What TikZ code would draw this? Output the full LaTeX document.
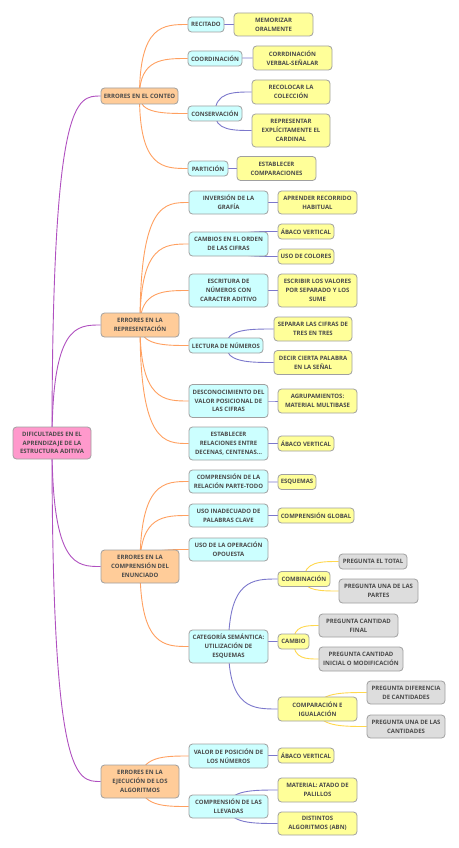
\documentclass[tikz,border=0pt]{standalone}
\usepackage{fontspec}
\setmainfont{Open Sans}
\usetikzlibrary{calc,backgrounds}
\definecolor{txt}{HTML}{4A4A4A}
\definecolor{bord}{HTML}{A0A0A0}
\definecolor{pinkf}{HTML}{FF99CC}
\definecolor{orangef}{HTML}{FFCC99}
\definecolor{cyanf}{HTML}{CCFFFF}
\definecolor{yellowf}{HTML}{FFFF99}
\definecolor{grayf}{HTML}{DDDDDD}
\definecolor{epurple}{HTML}{B050C0}
\definecolor{eorange}{HTML}{FFA060}
\definecolor{eblue}{HTML}{7C78CC}
\definecolor{eyellow}{HTML}{FFD84D}
\tikzset{
  box/.style={draw=bord, line width=0.8pt, rounded corners=3.5pt, inner sep=0pt,
    align=center, text=txt, font=\fontsize{6}{8.8}\selectfont\bfseries},
  rootbox/.style={box, fill=pinkf},
  lone/.style={box, fill=orangef},
  ltwo/.style={box, fill=cyanf},
  lthree/.style={box, fill=yellowf},
  lfour/.style={box, fill=grayf},
  sz/.style 2 args={minimum width=#1pt, minimum height=#2pt},
  epu/.style={draw=epurple, line width=0.9pt},
  eor/.style={draw=eorange, line width=0.9pt},
  ebl/.style={draw=eblue, line width=0.9pt},
  eye/.style={draw=eyellow, line width=0.9pt},
}
\newcommand\edg[3]{\draw[#1] (#2.center) .. controls (#2.center |- #3.west) and ($(#2.center |- #3.west)!0.5!(#3.west)$) .. (#3.west);}
\begin{document}
\begin{tikzpicture}[x=1pt,y=-1pt]
\useasboundingbox (0,0) rectangle (458,848);
% root
\node[rootbox, sz={78}{32}] (r) at (52,443) {DIFICULTADES EN EL\\APRENDIZAJE DE LA\\ESTRUCTURA ADITIVA};
% level 1
\node[lone, sz={77}{16}] (a) at (139.5,96) {ERRORES EN EL CONTEO};
\node[lone, sz={78}{24}] (b) at (140,325) {ERRORES EN LA\\REPRESENTACIÓN};
\node[lone, sz={78}{33}] (c) at (140,566.5) {ERRORES EN LA\\COMPRENSIÓN DEL\\ENUNCIADO};
\node[lone, sz={78}{33}] (d) at (140,781.5) {ERRORES EN LA\\EJECUCIÓN DE LOS\\ALGORITMOS};
% conteo
\node[ltwo, sz={36}{15}] (a1) at (206,24.5) {RECITADO};
\node[ltwo, sz={54}{15}] (a2) at (215,58.5) {COORDINACIÓN};
\node[ltwo, sz={54}{15}] (a3) at (215,113.5) {CONSERVACIÓN};
\node[ltwo, sz={40}{15}] (a4) at (208,168.5) {PARTICIÓN};
\node[lthree, sz={79}{23}] (a1x) at (273.5,24.5) {MEMORIZAR\\ORALMENTE};
\node[lthree, sz={79}{24}] (a2x) at (292.5,58) {CORRDINACIÓN\\VERBAL-SEÑALAR};
\node[lthree, sz={78}{24}] (a3x) at (291,92) {RECOLOCAR LA\\COLECCIÓN};
\node[lthree, sz={78}{33}] (a3y) at (291,130.5) {REPRESENTAR\\EXPLÍCITAMENTE EL\\CARDINAL};
\node[lthree, sz={79}{24}] (a4x) at (276.5,168.5) {ESTABLECER\\COMPARACIONES};
% representacion
\node[ltwo, sz={79}{23}] (b1) at (228.5,202.5) {INVERSIÓN DE LA\\GRAFÍA};
\node[ltwo, sz={79}{24}] (b2) at (228.5,244) {CAMBIOS EN EL ORDEN\\DE LAS CIFRAS};
\node[ltwo, sz={79}{33}] (b3) at (228.5,290.5) {ESCRITURA DE\\NÚMEROS CON\\CARACTER ADITIVO};
\node[ltwo, sz={74}{15}] (b4) at (226,345.5) {LECTURA DE NÚMEROS};
\node[ltwo, sz={79}{33}] (b5) at (228.5,401) {DESCONOCIMIENTO DEL\\VALOR POSICIONAL DE\\LAS CIFRAS};
\node[ltwo, sz={79}{33}] (b6) at (228.5,443.5) {ESTABLECER\\RELACIONES ENTRE\\DECENAS, CENTENAS...};
\node[lthree, sz={79}{23}] (b1x) at (317.5,202.5) {APRENDER RECORRIDO\\HABITUAL};
\node[lthree, sz={56}{15}] (b2x) at (306,231.5) {ÁBACO VERTICAL};
\node[lthree, sz={56}{15}] (b2y) at (306,256.5) {USO DE COLORES};
\node[lthree, sz={79}{33}] (b3x) at (317.5,290.5) {ESCRIBIR LOS VALORES\\POR SEPARADO Y LOS\\SUME};
\node[lthree, sz={78}{24}] (b4x) at (313,329) {SEPARAR LAS CIFRAS DE\\TRES EN TRES};
\node[lthree, sz={78}{24}] (b4y) at (313,362.5) {DECIR CIERTA PALABRA\\EN LA SEÑAL};
\node[lthree, sz={79}{24}] (b5x) at (317.5,401) {AGRUPAMIENTOS:\\MATERIAL MULTIBASE};
\node[lthree, sz={56}{15}] (b6x) at (306,443.5) {ÁBACO VERTICAL};
% comprension
\node[ltwo, sz={79}{23}] (c1) at (228.5,481.5) {COMPRENSIÓN DE LA\\RELACIÓN PARTE-TODO};
\node[ltwo, sz={79}{23}] (c2) at (228.5,515.5) {USO INADECUADO DE\\PALABRAS CLAVE};
\node[ltwo, sz={79}{23}] (c3) at (228.5,549.5) {USO DE LA OPERACIÓN\\OPOUESTA};
\node[ltwo, sz={79}{33}] (c4) at (228.5,646.5) {CATEGORÍA SEMÁNTICA:\\UTILIZACIÓN DE\\ESQUEMAS};
\node[lthree, sz={38}{15}] (c1x) at (297,482) {ESQUEMAS};
\node[lthree, sz={76}{15}] (c2x) at (316,515.5) {COMPRENSIÓN GLOBAL};
\node[lthree, sz={52}{15}] (c4x) at (304,579) {COMBINACIÓN};
\node[lthree, sz={31}{15}] (c4y) at (293.5,641.5) {CAMBIO};
\node[lthree, sz={79}{24}] (c4z) at (317.5,709) {COMPARACIÓN E\\IGUALACIÓN};
\node[lfour, sz={68}{15}] (g1) at (373,561.5) {PREGUNTA EL TOTAL};
\node[lfour, sz={79}{24}] (g2) at (378.5,591) {PREGUNTA UNA DE LAS\\PARTES};
\node[lfour, sz={79}{23}] (g3) at (358.5,625.5) {PREGUNTA CANTIDAD\\FINAL};
\node[lfour, sz={84}{24}] (g4) at (361,659) {PREGUNTA CANTIDAD\\INICIAL O MODIFICACIÓN};
\node[lfour, sz={78}{23}] (g5) at (406,692.5) {PREGUNTA DIFERENCIA\\DE CANTIDADES};
\node[lfour, sz={78}{23}] (g6) at (406,726.5) {PREGUNTA UNA DE LAS\\CANTIDADES};
% ejecucion
\node[ltwo, sz={79}{24}] (d1) at (228.5,756) {VALOR DE POSICIÓN DE\\LOS NÚMEROS};
\node[ltwo, sz={79}{23}] (d2) at (228.5,806.5) {COMPRENSIÓN DE LAS\\LLEVADAS};
\node[lthree, sz={56}{15}] (d1x) at (306,755.5) {ÁBACO VERTICAL};
\node[lthree, sz={79}{24}] (d2x) at (317.5,790) {MATERIAL: ATADO DE\\PALILLOS};
\node[lthree, sz={79}{23}] (d2y) at (317.5,823.5) {DISTINTOS\\ALGORITMOS (ABN)};
% edges
\begin{scope}[on background layer]
\fill[white] (0,0) rectangle (458,848);
\edg{epu}{r}{a}\edg{epu}{r}{b}\edg{epu}{r}{c}\edg{epu}{r}{d}
\edg{eor}{a}{a1}\edg{eor}{a}{a2}\edg{eor}{a}{a3}\edg{eor}{a}{a4}
\edg{eor}{b}{b1}\edg{eor}{b}{b2}\edg{eor}{b}{b3}\edg{eor}{b}{b4}\edg{eor}{b}{b5}\edg{eor}{b}{b6}
\edg{eor}{c}{c1}\edg{eor}{c}{c2}\edg{eor}{c}{c3}\edg{eor}{c}{c4}
\edg{eor}{d}{d1}\edg{eor}{d}{d2}
\edg{ebl}{a1}{a1x}\edg{ebl}{a2}{a2x}\edg{ebl}{a3}{a3x}\edg{ebl}{a3}{a3y}\edg{ebl}{a4}{a4x}
\edg{ebl}{b1}{b1x}\edg{ebl}{b2}{b2x}\edg{ebl}{b2}{b2y}\edg{ebl}{b3}{b3x}\edg{ebl}{b4}{b4x}\edg{ebl}{b4}{b4y}\edg{ebl}{b5}{b5x}\edg{ebl}{b6}{b6x}
\edg{ebl}{c1}{c1x}\edg{ebl}{c2}{c2x}\edg{ebl}{c4}{c4x}\edg{ebl}{c4}{c4y}\edg{ebl}{c4}{c4z}
\edg{ebl}{d1}{d1x}\edg{ebl}{d2}{d2x}\edg{ebl}{d2}{d2y}
\edg{eye}{c4x}{g1}\edg{eye}{c4x}{g2}\edg{eye}{c4y}{g3}\edg{eye}{c4y}{g4}\edg{eye}{c4z}{g5}\edg{eye}{c4z}{g6}
\end{scope}
\end{tikzpicture}
\end{document}
